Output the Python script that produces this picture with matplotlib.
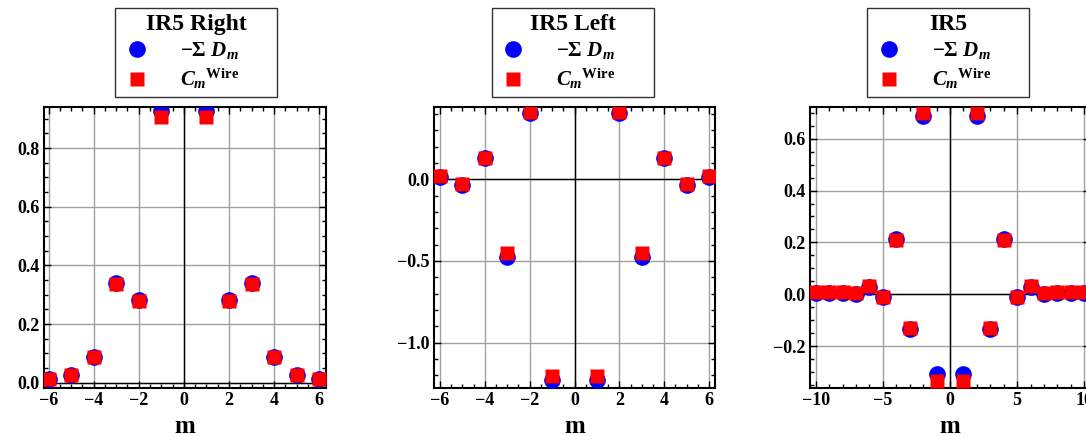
import numpy as np
from matplotlib import pyplot as plt
from matplotlib.ticker import MultipleLocator

plt.rcParams['font.family'] = ['Liberation Serif', 'DejaVu Serif']
plt.rcParams['font.weight'] = 'bold'
plt.rcParams['mathtext.fontset'] = 'custom'
plt.rcParams['mathtext.rm'] = 'Liberation Serif:bold'
plt.rcParams['mathtext.it'] = 'Liberation Serif:italic:bold'
plt.rcParams['mathtext.bf'] = 'Liberation Serif:bold'

# harmonic index m
m_short = [-6, -5, -4, -3, -2, -1, 1, 2, 3, 4, 5, 6]
m_long = [-10, -9, -8, -7, -6, -5, -4, -3, -2, -1, 1, 2, 3, 4, 5, 6, 7, 8, 9, 10]

# IR5 Right
right_sum_d = [0.013, 0.027, 0.087, 0.340, 0.281, 0.925, 0.925, 0.281, 0.340, 0.087, 0.027, 0.013]
right_wire = [0.012, 0.025, 0.086, 0.336, 0.280, 0.906, 0.906, 0.280, 0.336, 0.086, 0.025, 0.012]

# IR5 Left
left_sum_d = [0.016, -0.032, 0.132, -0.474, 0.408, -1.229, -1.229, 0.408, -0.474, 0.132, -0.032, 0.016]
left_wire = [0.022, -0.027, 0.128, -0.449, 0.414, -1.207, -1.207, 0.414, -0.449, 0.128, -0.027, 0.022]

# IR5 total
ir5_sum_d = [0.005, 0.005, 0.005, 0.003, 0.027, -0.010, 0.213, -0.135, 0.687, -0.307,
             -0.307, 0.687, -0.135, 0.213, -0.010, 0.027, 0.003, 0.005, 0.005, 0.005]
ir5_wire = [0.008, 0.008, 0.008, 0.005, 0.032, -0.009, 0.208, -0.130, 0.700, -0.335,
            -0.335, 0.700, -0.130, 0.208, -0.009, 0.032, 0.005, 0.008, 0.008, 0.008]

W, H = 1086, 436
fig = plt.figure(figsize=(W / 100, H / 100), dpi=100)


def panel(left, width, m, sumd, wire, title, xlim, ylim, xmaj, xmin, ymaj, ymin, legx):
    ax = fig.add_axes([left / W, 48 / H, width / W, 281 / H])
    ax.set_xlim(xlim)
    ax.set_ylim(ylim)
    ax.set_axisbelow(True)
    ax.xaxis.set_major_locator(MultipleLocator(xmaj))
    ax.xaxis.set_minor_locator(MultipleLocator(xmin))
    ax.yaxis.set_major_locator(MultipleLocator(ymaj))
    ax.yaxis.set_minor_locator(MultipleLocator(ymin))
    ax.grid(True, which='major', color='#a0a0a0', lw=1.0)
    ax.axhline(0, color='black', lw=1.0, zorder=1.5)
    ax.axvline(0, color='black', lw=1.0, zorder=1.5)
    ax.tick_params(which='both', direction='in', top=True, right=True, labelsize=13, pad=3)
    ax.tick_params(which='major', length=5, width=1)
    ax.tick_params(which='minor', length=3, width=1)
    for s in ax.spines.values():
        s.set_linewidth(1.5)
    for lab in ax.get_xticklabels() + ax.get_yticklabels():
        lab.set_fontweight('bold')
    c, = ax.plot(m, sumd, 'o', color='#0000ff', ms=12, mec='none', zorder=3)
    q, = ax.plot(m, wire, 's', color='#ff0000', ms=10.5, mec='none', zorder=4)
    ax.set_xlabel('m', fontsize=18, fontweight='bold', labelpad=4)
    leg = fig.legend([c, q], [r'$-\Sigma\ D_m$', r'${C_m}^{\mathrm{Wire}}$'],
                     title=title, loc='upper left', mode='expand',
                     bbox_to_anchor=((legx - 81) / W, 0, 162 / W, 1 - 8 / H), borderaxespad=0,
                     fontsize=15, title_fontproperties={'family': 'Liberation Serif', 'weight': 'bold', 'size': 17},
                     frameon=True, fancybox=False, framealpha=1, edgecolor='#333333',
                     handlelength=1.5, handletextpad=1.3, labelspacing=0.25, borderpad=0.3)
    leg.get_frame().set_linewidth(1.0)
    return ax


panel(44, 282, m_short, right_sum_d, right_wire, 'IR5 Right', (-6.2, 6.3), (-0.018, 0.94),
      2, 0.5, 0.2, 0.05, 196)
panel(434, 281, m_short, left_sum_d, left_wire, 'IR5 Left', (-6.27, 6.27), (-1.278, 0.443),
      2, 0.5, 0.5, 0.1, 572.5)
panel(810, 280, m_long, ir5_sum_d, ir5_wire, 'IR5', (-10.42, 10.42), (-0.361, 0.722),
      5, 1, 0.2, 0.05, 948)

plt.savefig('out.png', dpi=100)
plt.close()
